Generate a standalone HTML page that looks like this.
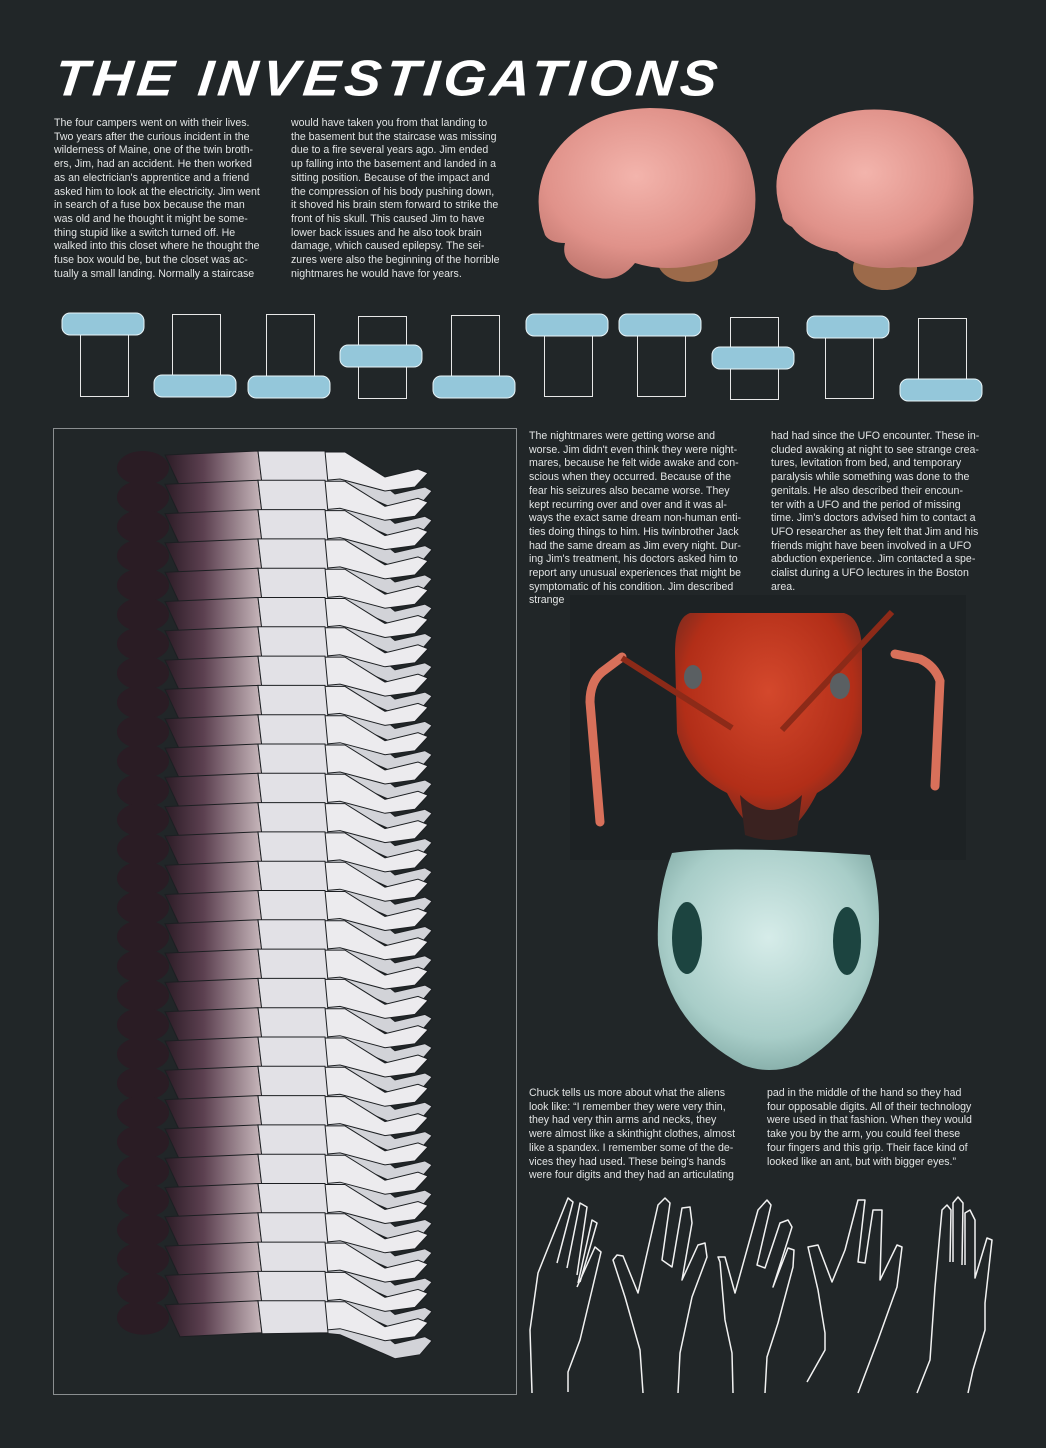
<!DOCTYPE html>
<html><head><meta charset="utf-8">
<style>
html,body{margin:0;padding:0}
body{width:1046px;height:1448px;background:#212628;position:relative;overflow:hidden;font-family:"Liberation Sans",Arial,sans-serif;color:#e4e6e6}
.t{position:absolute;font-size:10.6px;line-height:13.7px;white-space:pre;color:#e2e4e4}
h1{position:absolute;left:55px;top:46px;margin:0;font-size:55px;font-style:italic;font-weight:bold;letter-spacing:4.5px;color:#fff;font-family:"Liberation Sans",sans-serif;transform:skewX(-6deg) scaleY(0.92)}
svg{position:absolute;left:0;top:0}
</style></head><body>
<h1>THE INVESTIGATIONS</h1>

<div class="t" style="left:54px;top:117px">The four campers went on with their lives.
Two years after the curious incident in the
wilderness of Maine, one of the twin broth-
ers, Jim, had an accident. He then worked
as an electrician's apprentice and a friend
asked him to look at the electricity. Jim went
in search of a fuse box because the man
was old and he thought it might be some-
thing stupid like a switch turned off. He
walked into this closet where he thought the
fuse box would be, but the closet was ac-
tually a small landing. Normally a staircase</div>
<div class="t" style="left:291px;top:117px">would have taken you from that landing to
the basement but the staircase was missing
due to a fire several years ago. Jim ended
up falling into the basement and landed in a
sitting position. Because of the impact and
the compression of his body pushing down,
it shoved his brain stem forward to strike the
front of his skull. This caused Jim to have
lower back issues and he also took brain
damage, which caused epilepsy. The sei-
zures were also the beginning of the horrible
nightmares he would have for years.</div>

<div class="t" style="left:529px;top:430px;height:178px;overflow:hidden">The nightmares were getting worse and
worse. Jim didn't even think they were night-
mares, because he felt wide awake and con-
scious when they occurred. Because of the
fear his seizures also became worse. They
kept recurring over and over and it was al-
ways the exact same dream non-human enti-
ties doing things to him. His twinbrother Jack
had the same dream as Jim every night. Dur-
ing Jim's treatment, his doctors asked him to
report any unusual experiences that might be
symptomatic of his condition. Jim described
strange</div>
<div class="t" style="left:771px;top:430px;height:160px;overflow:hidden">had had since the UFO encounter. These in-
cluded awaking at night to see strange crea-
tures, levitation from bed, and temporary
paralysis while something was done to the
genitals. He also described their encoun-
ter with a UFO and the period of missing
time. Jim's doctors advised him to contact a
UFO researcher as they felt that Jim and his
friends might have been involved in a UFO
abduction experience. Jim contacted a spe-
cialist during a UFO lectures in the Boston
area.</div>

<div class="t" style="left:529px;top:1087px">Chuck tells us more about what the aliens
look like: “I remember they were very thin,
they had very thin arms and necks, they
were almost like a skinthight clothes, almost
like a spandex. I remember some of the de-
vices they had used. These being's hands
were four digits and they had an articulating</div>
<div class="t" style="left:767px;top:1087px">pad in the middle of the hand so they had
four opposable digits. All of their technology
were used in that fashion. When they would
take you by the arm, you could feel these
four fingers and this grip. Their face kind of
looked like an ant, but with bigger eyes.”</div>

<svg width="1046" height="1448" viewBox="0 0 1046 1448">
<defs>
<radialGradient id="brain" cx="45%" cy="40%" r="60%"><stop offset="0" stop-color="#f3b4ac"/><stop offset="0.7" stop-color="#e0928a"/><stop offset="1" stop-color="#c47a72"/></radialGradient>
<radialGradient id="red" cx="50%" cy="35%" r="65%"><stop offset="0" stop-color="#d4482c"/><stop offset="0.7" stop-color="#b22e18"/><stop offset="1" stop-color="#6a2a20"/></radialGradient>
<radialGradient id="teal" cx="50%" cy="40%" r="65%"><stop offset="0" stop-color="#d6ece9"/><stop offset="0.7" stop-color="#a8cdc8"/><stop offset="1" stop-color="#7fa8a3"/></radialGradient>
<linearGradient id="torsog" x1="0" x2="1"><stop offset="0" stop-color="#2c1c26"/><stop offset="0.4" stop-color="#5c4050"/><stop offset="1" stop-color="#c8b8bc"/></linearGradient>
</defs>
<g>
<ellipse cx="688" cy="262" rx="30" ry="20" fill="#9c6a4a"/>
<path d="M545 235 q-15 -40 5 -75 q30 -50 100 -52 q70 0 95 45 q18 40 5 80 q-15 25 -45 30 q-40 10 -70 0 q-20 25 -50 10 q-25 -10 -20 -30 q-15 0 -20 -8z" fill="url(#brain)"/>
</g>
<g>
<ellipse cx="885" cy="268" rx="32" ry="22" fill="#9c6a4a"/>
<path d="M782 215 q-15 -40 10 -70 q35 -40 95 -35 q60 5 80 50 q15 45 -5 85 q-20 25 -60 22 q-40 5 -65 -15 q-30 -5 -45 -25 q-10 -5 -10 -12z" fill="url(#brain)"/>
</g>
<g id="boxes"></g>
<rect x="53.5" y="428.5" width="463" height="966" fill="none" stroke="#8a8e90" stroke-width="1"/>
<g id="bodies"></g>
<rect x="570" y="595" width="396" height="265" fill="#1d2224"/>
<g>
<path d="M600 822 l-10 -120 q0 -20 12 -30 l20 -15" stroke="#d8705a" stroke-width="9" fill="none" stroke-linecap="round"/>
<path d="M935 786 l5 -105 q-5 -15 -20 -22 l-25 -5" stroke="#d8705a" stroke-width="9" fill="none" stroke-linecap="round"/>
<path d="M690 613 q-15 5 -15 40 l2 80 q10 40 50 60 q20 40 45 45 q25 -5 45 -45 q35 -20 45 -60 l0 -80 q0 -35 -18 -40z" fill="url(#red)"/>
<path d="M622 658 l110 70 M892 612 l-110 118" stroke="#8c2a18" stroke-width="6"/>
<ellipse cx="693" cy="677" rx="9" ry="12" fill="#5a5f62"/><ellipse cx="840" cy="686" rx="10" ry="13" fill="#5a5f62"/>
<path d="M740 795 q30 30 62 0 l-5 40 q-25 10 -52 0z" fill="#3a2220"/>
</g>
<g>
<path d="M672 853 q50 -8 198 2 q12 40 8 90 q-10 80 -80 120 q-30 10 -55 0 q-75 -40 -85 -120 q-2 -50 14 -92z" fill="url(#teal)"/>
<ellipse cx="687" cy="938" rx="15" ry="36" fill="#1c4440"/>
<ellipse cx="847" cy="941" rx="14" ry="34" fill="#1c4440"/>
</g>
<g id="hands" fill="none" stroke="#f2f2f2" stroke-width="1.5" stroke-linejoin="round">
<polyline points="532,1393 530,1330 538,1273 558,1223 568,1198 573,1202 557,1263"/>
<polyline points="567,1268 580,1203 587,1207 577,1275"/>
<polyline points="578,1283 592,1220 597,1223 580,1282"/>
<polyline points="577,1287 595,1247 601,1252 592,1290 580,1340 568,1372 568,1392"/>
<polyline points="643,1393 640,1350 625,1297 613,1260 617,1255 623,1256 638,1293 658,1205 665,1198 670,1203 662,1260 672,1267 682,1208 690,1207 692,1223 682,1280 698,1245 705,1243 707,1257 692,1297 680,1353 678,1393"/>
<polyline points="733,1393 732,1353 725,1320 720,1262 718,1257 725,1257 735,1293 758,1210 767,1200 771,1205 757,1265 765,1268 780,1223 788,1220 792,1227 773,1287 788,1248 794,1250 793,1267 778,1323 767,1357 765,1393"/>
<polyline points="807,1382 825,1350 825,1333 818,1290 808,1247 818,1245 832,1282 845,1250 858,1200 865,1200 858,1262 865,1263 873,1210 882,1210 880,1280 897,1245 902,1247 897,1287 878,1340 858,1393"/>
<polyline points="917,1393 930,1360 935,1287 942,1210 947,1205 951,1210 950,1262"/>
<polyline points="953,1262 953,1203 958,1197 963,1203 962,1265"/>
<polyline points="965,1265 965,1213 970,1210 975,1220 975,1278 987,1238 992,1240 985,1303 985,1330 973,1370 968,1393"/>
</g>
</svg>
<script>
var NS='http://www.w3.org/2000/svg';
var boxes=document.getElementById('boxes');
// [rectX, rectY, rectH, pillY]
var items=[[80,318,78,313],[172,314,78,375],[266,314,80,376],[358,316,82,345],[451,315,78,376],[544,318,78,314],[637,318,78,314],[730,317,82,347],[825,318,80,316],[918,318,82,379]];
items.forEach(function(it,i){
 var r=document.createElementNS(NS,'rect');
 r.setAttribute('x',it[0]+.5);r.setAttribute('y',it[1]+.5);r.setAttribute('width',48);r.setAttribute('height',it[2]);
 r.setAttribute('fill','none');r.setAttribute('stroke','#e8e8e8');r.setAttribute('stroke-width','1');
 
 
 boxes.appendChild(r);
 var p=document.createElementNS(NS,'rect');
 p.setAttribute('x',it[0]-18);p.setAttribute('y',it[3]);p.setAttribute('width',82);p.setAttribute('height',22);p.setAttribute('rx',8);
 p.setAttribute('fill','#94c7da');p.setAttribute('stroke','#e8f4f8');p.setAttribute('stroke-width','1');
 
 
 boxes.appendChild(p);
});
var bodies=document.getElementById('bodies');
for(var k=0;k<30;k++){
 var y=449+k*29.3;
 var g=document.createElementNS(NS,'g');
 
 
 g.innerHTML=
 '<path d="M322 '+(y+4)+' L350 '+(y+8)+' L395 '+(y+45)+' L425 '+(y+38)+' L432 '+(y+42)+' L420 '+(y+56)+' L395 '+(y+60)+' L340 '+(y+36)+' L320 '+(y+34)+'z" fill="#d2d3d8" stroke="#1c1f22" stroke-width="1"/>'+
 '<path d="M318 '+(y+3)+' L345 '+(y+3)+' L385 '+(y+28)+' L418 '+(y+20)+' L428 '+(y+24)+' L415 '+(y+38)+' L385 '+(y+42)+' L340 '+(y+30)+' L318 '+(y+32)+'z" fill="#ecebee" stroke="#1c1f22" stroke-width="1"/>'+
 '<path d="M165 '+(y+6)+' L258 '+(y+2)+' L262 '+(y+34)+' L180 '+(y+38)+'z" fill="url(#torsog)" stroke="#1c1f22" stroke-width="1"/>'+
 '<path d="M258 '+(y+2)+' L325 '+(y+2)+' L328 '+(y+34)+' L262 '+(y+35)+'z" fill="#e2e1e6" stroke="#1c1f22" stroke-width="1"/>'+
 '<ellipse cx="143" cy="'+(y+19)+'" rx="26" ry="17" fill="#2a1c24"/>';
 bodies.appendChild(g);
}
</script>
</body></html>
